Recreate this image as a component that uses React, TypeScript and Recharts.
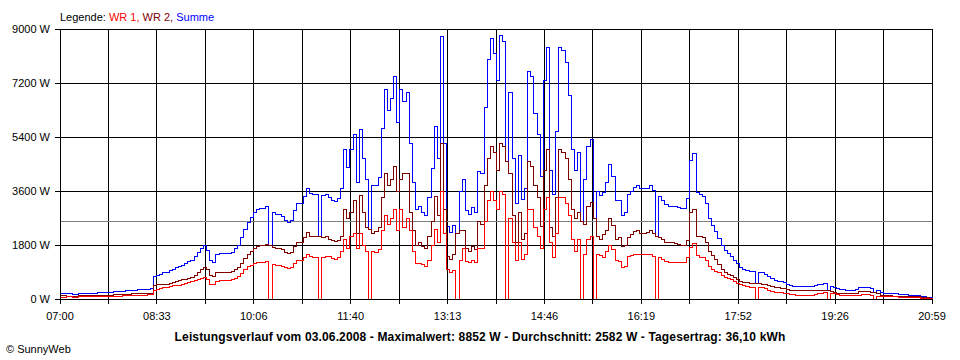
import React from "react";
import { LineChart, Line, XAxis, YAxis, CartesianGrid, ReferenceLine } from "recharts";

// tick labels on the time axis (every second grid line is labelled)
const timeLabels = ["07:00", "08:33", "10:06", "11:40", "13:13", "14:46", "16:19", "17:52", "19:26", "20:59"];
const powerTicks = [0, 1800, 3600, 5400, 7200, 9000];
const averageW = 2582;

// WR 1 (red), one value every 3 minutes from 07:00, last value at 20:59
const wr1 = [
  60, 60, 70, 70, 60, 60, 70, 70, 80, 80, 80, 80, 90, 90, 90, 100, 100, 100, 100, 100,
  110, 110, 120, 120, 120, 130, 130, 130, 140, 150, 300, 320, 350, 380, 400, 420, 440, 450, 460, 480,
  520, 550, 580, 620, 660, 700, 720, 650, 500, 480, 600, 620, 630, 620, 630, 640, 700, 740, 860, 980,
  1070, 1130, 1200, 1220, 1230, 1230, 1250, 0, 1150, 1130, 1130, 1100, 1050, 1030, 1050, 1200, 1300, 1300, 1380, 1470,
  1420, 1400, 1400, 0, 1400, 1430, 1420, 1350, 1330, 1400, 1570, 2000, 1700, 2100, 2200, 1700, 2200, 1800, 1600, 0,
  1600, 1550, 1650, 2300, 2800, 2500, 2700, 3000, 2300, 3000, 2400, 2700, 2300, 1600, 1200, 1200, 1150, 1100, 1300, 1770,
  2330, 1900, 3570, 2200, 1000, 900, 950, 0, 1300, 1700, 1250, 1230, 1300, 1230, 1670, 1700, 2600, 3300, 3570, 3300,
  3000, 3600, 3500, 0, 2700, 1900, 1300, 1900, 1330, 1500, 3000, 3000, 2400, 2100, 1670, 3000, 3400, 1900, 1400, 2200,
  3400, 3400, 3200, 2800, 2000, 1600, 2000, 0, 1500, 2000, 2100, 0, 1500, 1450, 1400, 1570, 1800, 1650, 1300, 1250,
  1050, 1100, 1430, 1450, 1480, 1470, 1470, 1470, 1470, 1500, 1430, 0, 1370, 1330, 1250, 1230, 1230, 1230, 1230, 1230,
  1230, 1400, 1730, 1850, 1450, 1370, 1370, 1280, 1100, 1000, 930, 870, 800, 730, 700, 640, 570, 520, 470, 440,
  420, 400, 400, 0, 380, 370, 340, 300, 260, 230, 220, 210, 200, 180, 150, 140, 130, 130, 130, 130,
  130, 130, 150, 180, 200, 220, 0, 180, 170, 150, 130, 120, 110, 110, 110, 110, 130, 140, 140, 140,
  130, 0, 100, 80, 80, 70, 70, 70, 70, 60, 60, 50, 50, 50, 40, 40, 30, 30, 20, 10,
  0,
];

// WR 2 (dark red)
const wr2 = [
  110, 110, 100, 100, 100, 100, 110, 110, 110, 110, 110, 120, 120, 120, 130, 130, 130, 140, 140, 140,
  150, 160, 160, 170, 170, 180, 180, 190, 190, 200, 450, 470, 480, 490, 500, 520, 560, 600, 620, 640,
  660, 690, 720, 800, 900, 970, 1050, 980, 780, 740, 880, 900, 900, 890, 900, 920, 980, 1040, 1200, 1350,
  1470, 1580, 1700, 1750, 1780, 1800, 1820, 1800, 1720, 1700, 1700, 1650, 1560, 1530, 1560, 1750, 1870, 1870, 2050, 2230,
  2100, 2100, 2070, 2070, 2050, 2070, 1980, 1950, 1930, 1950, 2100, 3000, 2700, 2900, 3300, 2200, 3450, 2900, 2400, 2330,
  2200, 2250, 2400, 3400, 4200, 3800, 4000, 4430, 3600, 4000, 4200, 4200, 2900, 2300, 1800, 1900, 1750, 1700, 2100, 2570,
  3430, 2800, 5170, 3000, 1430, 1330, 1500, 2200, 2300, 2300, 1700, 1600, 1750, 1650, 2570, 2500, 3800, 4700, 5100, 4900,
  4300, 5170, 5100, 4600, 4200, 2800, 1900, 2900, 2000, 2200, 4600, 4430, 3800, 3400, 2430, 4300, 5000, 2400, 2100, 3400,
  5000, 4900, 4700, 4000, 3000, 2700, 2900, 2600, 2500, 3100, 3230, 2700, 2100, 2000, 2150, 2300, 2700, 2450, 2000, 2050,
  1750, 1800, 2050, 2150, 2250, 2300, 2200, 2200, 2230, 2280, 2200, 2070, 2050, 1970, 1900, 1870, 1870, 1850, 1830, 1800,
  1800, 1950, 2900, 3000, 2100, 2100, 2050, 1900, 1600, 1450, 1330, 1150, 1000, 880, 830, 780, 730, 650, 580, 560,
  540, 530, 530, 530, 520, 500, 470, 450, 420, 400, 380, 360, 340, 310, 290, 280, 290, 300, 300, 300,
  300, 300, 300, 300, 300, 290, 270, 250, 220, 200, 200, 190, 190, 190, 190, 200, 250, 260, 250, 240,
  220, 210, 170, 130, 120, 110, 110, 100, 100, 90, 90, 90, 80, 80, 80, 70, 60, 50, 40, 30,
  0,
];

const lastMinute = 839;
const minutes = wr1.map((_, i) => (i === wr1.length - 1 ? lastMinute : i * 3));
const data = minutes.map((t, i) => ({ t, wr1: wr1[i], wr2: wr2[i], summe: wr1[i] + wr2[i] }));
const timeTicks = Array.from({ length: 19 }, (_, i) => (i * lastMinute) / 18);

const font = "'Liberation Sans', Arial, sans-serif";

export default function App() {
  return (
    <div
      className="sunny"
      style={{ position: "absolute", left: 0, top: 0, width: 960, height: 360, background: "#fff", fontFamily: font }}
    >
      <style>{`.sunny svg path, .sunny svg line { shape-rendering: crispEdges; }`}</style>
      <div style={{ position: "absolute", left: 60, top: 12, fontSize: 11, lineHeight: 1, whiteSpace: "nowrap" }}>
        <span style={{ color: "#000" }}>Legende: </span>
        <span style={{ color: "#ff0000" }}>WR 1, </span>
        <span style={{ color: "#800000" }}>WR 2, </span>
        <span style={{ color: "#0000ff" }}>Summe</span>
      </div>
      <LineChart width={960} height={360} data={data} margin={{ top: 29, right: 28, bottom: 31, left: 0 }}>
        <CartesianGrid stroke="#000" strokeWidth={1} />
        <XAxis
          dataKey="t"
          type="number"
          domain={[0, lastMinute]}
          ticks={timeTicks}
          interval={0}
          height={30}
          tickSize={5}
          tickMargin={8}
          stroke="#000"
          tickLine={{ stroke: "#000" }}
          tick={{ fontSize: 11, fill: "#000", fontFamily: font }}
          tickFormatter={(v: number) => {
            const i = Math.round((v * 18) / lastMinute);
            return i % 2 === 0 ? timeLabels[i / 2] : "";
          }}
        />
        <YAxis
          domain={[0, 9000]}
          ticks={powerTicks}
          interval={0}
          width={60}
          tickSize={5}
          tickMargin={5}
          stroke="#000"
          tickLine={{ stroke: "#000" }}
          tick={{ fontSize: 11, fill: "#000", fontFamily: font }}
          tickFormatter={(v: number) => `${v} W`}
        />
        <ReferenceLine y={averageW} stroke="#808080" strokeWidth={1} />
        <Line dataKey="summe" type="stepAfter" stroke="#0000ff" strokeWidth={1} dot={false} isAnimationActive={false} />
        <Line dataKey="wr2" type="stepAfter" stroke="#800000" strokeWidth={1} dot={false} isAnimationActive={false} />
        <Line dataKey="wr1" type="stepAfter" stroke="#ff0000" strokeWidth={1} dot={false} isAnimationActive={false} />
      </LineChart>
      <div
        style={{
          position: "absolute",
          left: 0,
          width: 960,
          top: 331,
          textAlign: "center",
          fontSize: 12,
          fontWeight: "bold",
          letterSpacing: 0.14,
          lineHeight: 1,
          whiteSpace: "nowrap",
        }}
      >
        Leistungsverlauf vom 03.06.2008 - Maximalwert: 8852 W - Durchschnitt: 2582 W - Tagesertrag: 36,10 kWh
      </div>
      <div style={{ position: "absolute", left: 6, top: 344, fontSize: 11, lineHeight: 1, whiteSpace: "nowrap" }}>
        © SunnyWeb
      </div>
    </div>
  );
}
